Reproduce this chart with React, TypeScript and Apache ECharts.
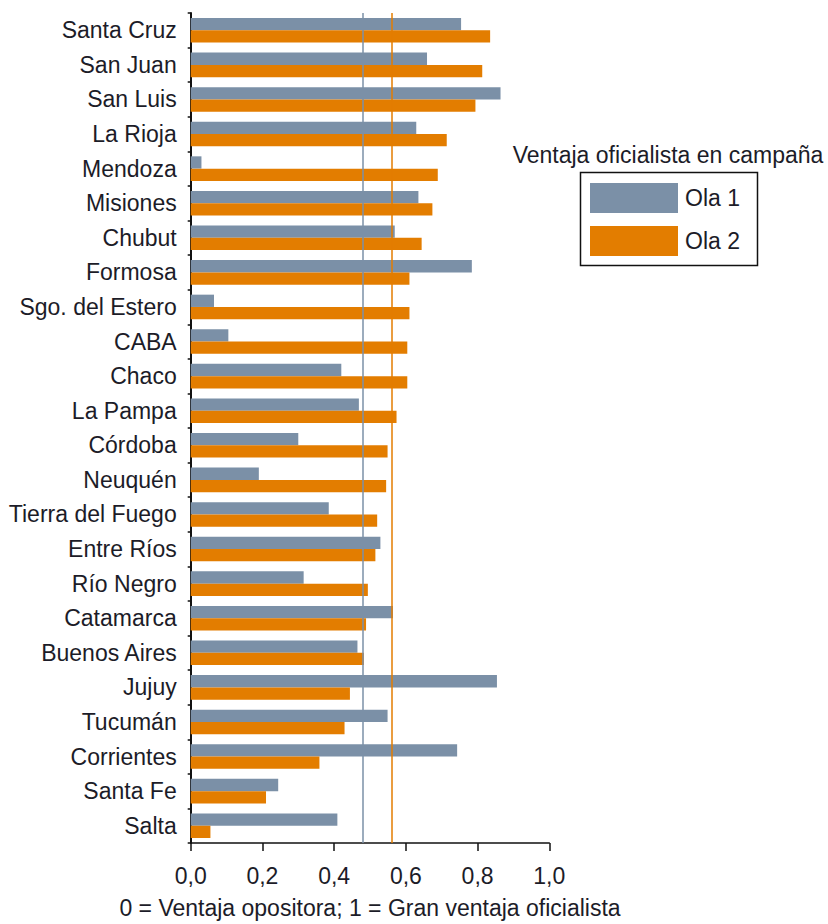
import React, { useEffect, useRef } from "react";
import * as echarts from "echarts";

const categories = [
  "Santa Cruz", "San Juan", "San Luis", "La Rioja", "Mendoza", "Misiones", "Chubut", "Formosa",
  "Sgo. del Estero", "CABA", "Chaco", "La Pampa", "Córdoba", "Neuquén", "Tierra del Fuego",
  "Entre Ríos", "Río Negro", "Catamarca", "Buenos Aires", "Jujuy", "Tucumán", "Corrientes",
  "Santa Fe", "Salta",
];
const ola1 = [
  0.754, 0.659, 0.864, 0.629, 0.03, 0.635, 0.569, 0.784,
  0.065, 0.105, 0.42, 0.469, 0.3, 0.19, 0.385,
  0.529, 0.315, 0.564, 0.465, 0.854, 0.549, 0.743,
  0.244, 0.409,
];
const ola2 = [
  0.835, 0.813, 0.794, 0.714, 0.689, 0.674, 0.644, 0.61,
  0.61, 0.604, 0.604, 0.574, 0.549, 0.545, 0.52,
  0.515, 0.494, 0.489, 0.483, 0.444, 0.429, 0.359,
  0.21, 0.055,
];
const mean1 = 0.481;
const mean2 = 0.556;
const seriesNames = ["Ola 1", "Ola 2"];
const legendTitle = "Ventaja oficialista en campaña";
const xTitle = "0 = Ventaja opositora; 1 = Gran ventaja oficialista";

const GRAY = "#7b90a7";
const ORANGE = "#e37d00";
const TEXT = "#1c1c28";
const FONT = "'Liberation Sans', Arial, sans-serif";
const FS = 23;

export default function App() {
  const ref = useRef<HTMLDivElement>(null);
  useEffect(() => {
    if (!ref.current) return;
    const chart = echarts.init(ref.current, undefined, { renderer: "svg" });
    chart.setOption({
      animation: false,
      textStyle: { fontFamily: FONT, color: TEXT },
      grid: { left: 190.7, right: 278.7, top: 13, bottom: 76, containLabel: false },
      xAxis: {
        type: "value",
        min: 0,
        max: 1,
        interval: 0.2,
        splitLine: { show: false },
        axisLine: { show: true, lineStyle: { color: "#111", width: 1.5 } },
        axisTick: { show: true, length: 8, lineStyle: { color: "#111", width: 1.5 } },
        axisLabel: {
          fontSize: FS,
          color: TEXT,
          fontFamily: FONT,
          margin: 21,
          formatter: (v: number) => v.toFixed(1).replace(".", ","),
        },
        name: xTitle,
        nameLocation: "middle",
        nameGap: 53,
        nameTextStyle: { fontSize: FS, color: TEXT, fontFamily: FONT },
      },
      yAxis: {
        type: "category",
        data: categories,
        inverse: true,
        axisLine: { show: true, lineStyle: { color: "#111", width: 2 } },
        axisTick: { show: true, length: 3, lineStyle: { color: "#111", width: 1.5 } },
        axisLabel: { fontSize: FS, color: TEXT, fontFamily: FONT, margin: 14 },
      },
      legend: {
        orient: "vertical",
        left: 590,
        top: 183,
        itemWidth: 88,
        itemHeight: 30,
        itemGap: 13,
        padding: 0,
        icon: "rect",
        data: seriesNames,
        textStyle: { fontSize: FS, color: TEXT, fontFamily: FONT, padding: [0, 0, 0, 2] },
      },
      graphic: [
        {
          type: "rect",
          shape: { x: 580.5, y: 172.5, width: 177, height: 93 },
          style: { fill: "none", stroke: "#111", lineWidth: 1.5 },
          silent: true,
        },
        {
          type: "text",
          x: 668,
          y: 155,
          style: {
            text: legendTitle,
            fontSize: FS,
            fontFamily: FONT,
            fill: TEXT,
            textAlign: "center",
            textVerticalAlign: "middle",
          },
        },
      ],
      series: [
        {
          name: seriesNames[0],
          type: "bar",
          data: ola1,
          barWidth: 12.3,
          barGap: "0%",
          itemStyle: { color: GRAY },
          markLine: {
            silent: true,
            symbol: "none",
            label: { show: false },
            lineStyle: { color: GRAY, width: 1.5, type: "solid" },
            data: [{ xAxis: mean1 }],
          },
        },
        {
          name: seriesNames[1],
          type: "bar",
          data: ola2,
          barWidth: 12.3,
          barGap: "0%",
          itemStyle: { color: ORANGE },
          markLine: {
            silent: true,
            symbol: "none",
            label: { show: false },
            lineStyle: { color: ORANGE, width: 1.5, type: "solid" },
            data: [{ xAxis: mean2 }],
          },
        },
      ],
    });
    return () => chart.dispose();
  }, []);
  return (
    <div
      ref={ref}
      style={{ position: "fixed", left: 0, top: 0, width: 828, height: 924, background: "#fff" }}
    />
  );
}
